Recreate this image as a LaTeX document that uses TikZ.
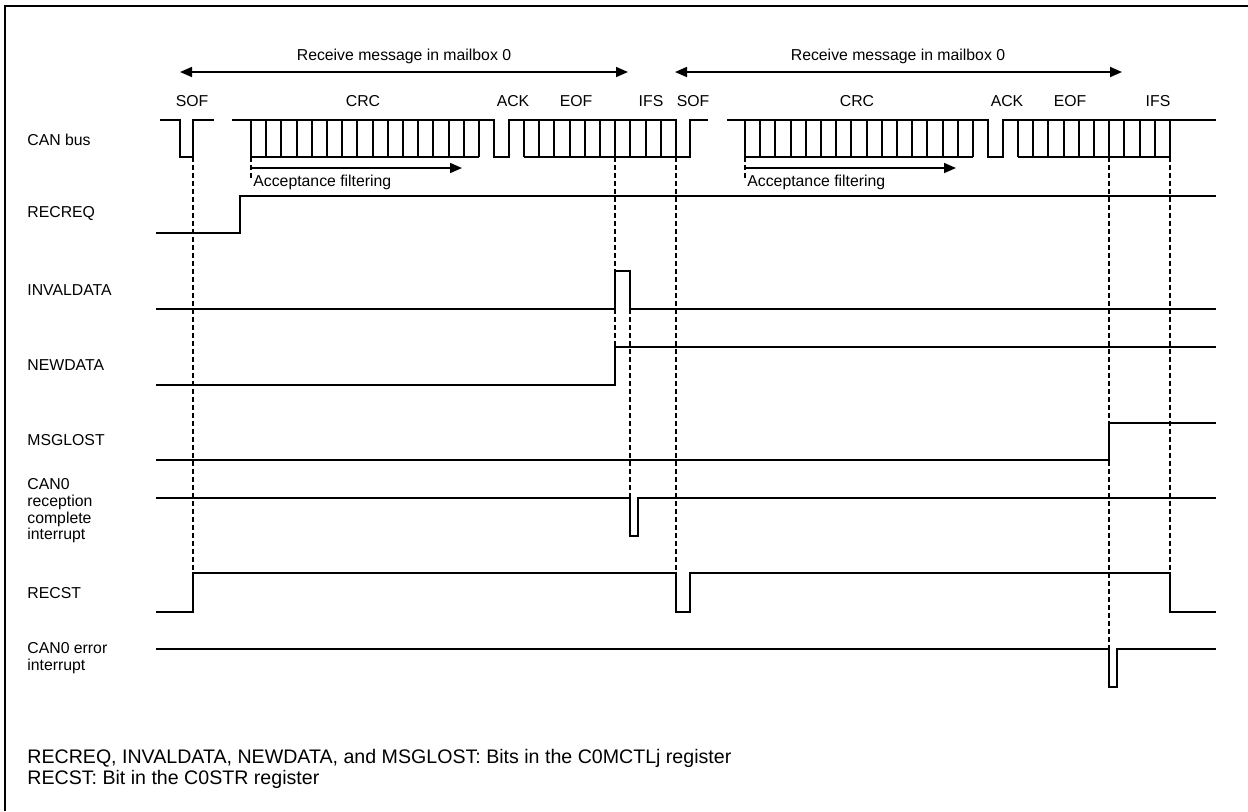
\documentclass[tikz,border=0pt]{standalone}
\usepackage{fontspec}
\setmainfont{Liberation Sans}
\usetikzlibrary{arrows.meta}

\begin{document}
\begin{tikzpicture}[x=0.5pt,y=-0.5pt]
        \tikzset{sig/.style={line width=1pt, line join=miter},
                 guide/.style={line width=0.7pt, dash pattern=on 2.5pt off 1.5pt},
                 lbl/.style={font=\fontsize{7.9}{8.3}\selectfont, inner sep=0pt, align=left},
                 note/.style={font=\fontsize{9.8}{10.5}\selectfont, inner sep=0pt, align=left},
                 span/.style={line width=0.8pt, {Triangle[length=6pt,width=5pt]}-{Triangle[length=6pt,width=5pt]}},
                 filt/.style={line width=0.8pt, -{Triangle[length=6pt,width=5pt]}}}

        \useasboundingbox (0,0) rectangle (1248,811);
        \draw[line width=1pt] (5,811) -- (5,6) -- (1248,6);

	%---NODES---
        \node[lbl] (rx1) at (404,56) {Receive message in mailbox 0};
        \node[lbl] (rx2) at (898,56) {Receive message in mailbox 0};

        \node[lbl] (sof1) at (192,101) {SOF};
        \node[lbl] (crc1) at (363,101) {CRC};
        \node[lbl] (ack1) at (513,101) {ACK};
        \node[lbl] (eof1) at (576,101) {EOF};
        \node[lbl] (ifs1) at (651,101) {IFS};
        \node[lbl] (sof2) at (693,101) {SOF};
        \node[lbl] (crc2) at (857,101) {CRC};
        \node[lbl] (ack2) at (1007,101) {ACK};
        \node[lbl] (eof2) at (1070,101) {EOF};
        \node[lbl] (ifs2) at (1158,101) {IFS};

        \coordinate (a1) at (180,72);
        \coordinate (b1) at (628,72);
        \coordinate (a2) at (675,72);
        \coordinate (b2) at (1122,72);
        \coordinate (f1) at (251,168);
        \coordinate (g1) at (462,168);
        \coordinate (f2) at (745,168);
        \coordinate (g2) at (956,168);

	%---EDGES---
        \draw[span] (a1) -- (b1) ;
        \draw[span] (a2) -- (b2) ;
        \draw[filt] (f1) -- (g1) ;
        \draw[filt] (f2) -- (g2) ;

        % CAN bus
        \draw[sig] (160,120) -- (180,120) -- (180,157) -- (193,157) -- (193,120) -- (214,120);
        \draw[sig] (232,120) -- (494,120) -- (494,157) -- (509,157) -- (509,120) -- (676,120) -- (676,157) -- (690,157) -- (690,120) -- (708,120);
        \draw[sig] (251,157) -- (479,157);
        \draw[sig] (524,157) -- (676,157);
        \foreach \k in {0,...,15} \draw[sig] (251+\k*15.2,120) -- (251+\k*15.2,157);
        \foreach \k in {0,...,10} \draw[sig] (524+\k*15.2,120) -- (524+\k*15.2,157);
        \draw[sig] (727,120) -- (988,120) -- (988,157) -- (1003,157) -- (1003,120) -- (1216,120);
        \draw[sig] (745,157) -- (973,157);
        \draw[sig] (1018,157) -- (1170,157);
        \foreach \k in {0,...,15} \draw[sig] (745+\k*15.2,120) -- (745+\k*15.2,157);
        \foreach \k in {0,...,10} \draw[sig] (1018+\k*15.2,120) -- (1018+\k*15.2,157);

        % RECREQ
        \draw[sig] (156,233) -- (240,233) -- (240,196) -- (1216,196);
        % INVALDATA
        \draw[sig] (156,309) -- (615,309) -- (615,271) -- (630,271) -- (630,309) -- (1216,309);
        % NEWDATA
        \draw[sig] (156,385) -- (615,385) -- (615,347) -- (1216,347);
        % MSGLOST
        \draw[sig] (156,460) -- (1109,460) -- (1109,423) -- (1216,423);
        % CAN0 reception complete interrupt
        \draw[sig] (156,498) -- (630,498) -- (630,536) -- (638,536) -- (638,498) -- (1216,498);
        % RECST
        \draw[sig] (156,612) -- (193,612) -- (193,573) -- (676,573) -- (676,612) -- (690,612) -- (690,573) -- (1170,573) -- (1170,612) -- (1216,612);
        % CAN0 error interrupt
        \draw[sig] (156,649) -- (1109,649) -- (1109,687) -- (1117,687) -- (1117,649) -- (1216,649);

        % timing guides
        \draw[guide] (251,157) -- (251,178);
        \draw[guide] (745,157) -- (745,178);
        \draw[guide] (193,157) -- (193,573);
        \draw[guide] (615,157) -- (615,347);
        \draw[guide] (630,309) -- (630,498);
        \draw[guide] (676,157) -- (676,573);
        \draw[guide] (1109,157) -- (1109,649);
        \draw[guide] (1170,157) -- (1170,573);

	%---LABELS---
        \node[lbl, anchor=north west] (acc1) at (253,175) {Acceptance filtering};
        \node[lbl, anchor=north west] (acc2) at (747,175) {Acceptance filtering};

        \node[lbl, anchor=west] (canbus) at (27,140) {CAN bus};
        \node[lbl, anchor=west] (recreq) at (27,213) {RECREQ};
        \node[lbl, anchor=west] (invaldata) at (27,290) {INVALDATA};
        \node[lbl, anchor=west] (newdata) at (27,365) {NEWDATA};
        \node[lbl, anchor=west] (msglost) at (27,440) {MSGLOST};
        \node[lbl, anchor=west] (recint) at (27,511) {CAN0\\reception\\complete\\interrupt};
        \node[lbl, anchor=west] (recst) at (27,593) {RECST};
        \node[lbl, anchor=west] (errint) at (27,658) {CAN0 error\\interrupt};

        \node[note, anchor=west] (note1) at (27,758) {RECREQ, INVALDATA, NEWDATA, and MSGLOST: Bits in the C0MCTLj register};
        \node[note, anchor=west] (note2) at (27,779) {RECST: Bit in the C0STR register};

\end{tikzpicture}
\end{document}
